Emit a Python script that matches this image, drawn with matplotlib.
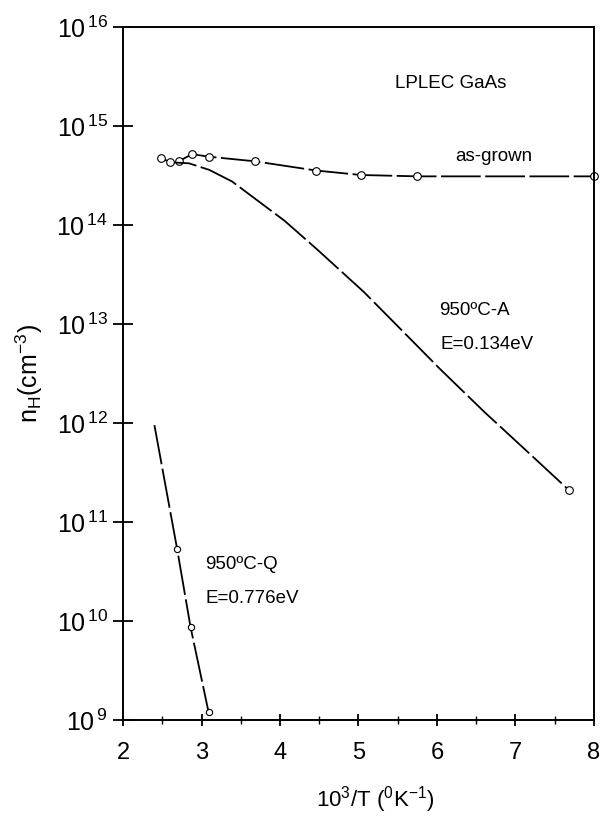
import math
import matplotlib
matplotlib.use("Agg")
import matplotlib.pyplot as plt
from matplotlib.ticker import FixedLocator, FuncFormatter

plt.rcParams['font.family'] = ['Liberation Sans', 'DejaVu Sans']
plt.rcParams['mathtext.fontset'] = 'custom'
plt.rcParams['mathtext.rm'] = 'Liberation Sans'
plt.rcParams['mathtext.it'] = 'Liberation Sans:italic'

# as-grown curve
asgrown_x = [2.71, 2.88, 3.09, 3.68, 4.46, 5.03, 5.75, 8.0]
asgrown_y = [4.4e14, 5.2e14, 4.9e14, 4.4e14, 3.55e14, 3.2e14, 3.1e14, 3.1e14]

# 950C-A curve
anneal_x = [2.45, 2.6, 2.84, 3.1, 3.39, 3.7, 4.06, 4.48, 5.07, 5.5, 6.04, 6.6, 7.10, 7.68]
anneal_y = [4.9e14, 4.3e14, 4.2e14, 3.6e14, 2.75e14, 1.8e14, 1.1e14, 5.6e13, 2.1e13,
            9.5e12, 3.5e12, 1.3e12, 5.6e11, 2.1e11]
anneal_mx = [2.48, 2.6, 7.68]
anneal_my = [4.8e14, 4.3e14, 2.1e11]

# 950C-Q curve
quench_x = [2.40, 2.69, 2.86, 3.09]
quench_y = [9.5e11, 5.3e10, 8.7e9, 1.2e9]

x_ticks = [2, 3, 4, 5, 6, 7, 8]
y_exps = [9, 10, 11, 12, 13, 14, 15, 16]

fig = plt.figure(figsize=(6.03, 8.19), dpi=100)
ax = fig.add_axes([0.204, 0.121, 0.781, 0.846])

dash = (0, (22, 2.5))
ax.plot(asgrown_x, asgrown_y, color='black', lw=1.3, ls=dash,
        marker='o', ms=5.5, mfc='white', mec='black', mew=0.8, clip_on=False)
ax.plot(anneal_x, anneal_y, color='black', lw=1.3, ls=dash)
ax.plot(anneal_mx, anneal_my, ls='none', marker='o', ms=5.5,
        mfc='white', mec='black', mew=0.8)
ax.plot(quench_x, quench_y, color='black', lw=1.3, ls=dash,
        marker='o', ms=4.5, mfc='white', mec='black', mew=0.8, markevery=[1, 2, 3])

ax.set_yscale('log')
ax.set_xlim(2, 8)
ax.set_ylim(1e9, 1e16)

ax.xaxis.set_major_locator(FixedLocator(x_ticks))
ax.xaxis.set_minor_locator(FixedLocator([2.5, 3.5, 4.5, 5.5, 6.5, 7.5]))
ax.yaxis.set_major_locator(FixedLocator([10.0 ** e for e in y_exps]))
ax.yaxis.set_minor_locator(FixedLocator([]))
ax.yaxis.set_major_formatter(FuncFormatter(
    lambda v, p: r'$\mathregular{10^{\,%d}}$' % round(math.log10(v))))

ax.tick_params(axis='y', which='major', direction='inout', length=14, width=1.3,
               labelsize=18, pad=4)
ax.tick_params(axis='x', which='major', direction='inout', length=8, width=1.3,
               labelsize=17, pad=12)
ax.tick_params(axis='x', which='minor', direction='inout', length=6, width=1.0)

for s in ax.spines.values():
    s.set_linewidth(1.4)

ax.set_xlabel(r'10$^3$/T ($^0$K$^{-1}$)', fontsize=16)
ax.xaxis.set_label_coords(0.535, -0.092)
ax.set_ylabel(r'n$_\mathregular{H}$(cm$^{-3}$)', fontsize=18)
ax.yaxis.set_label_coords(-0.165, 0.5)

fs = 13.5
ax.text(5.47, 10 ** 15.43, 'LPLEC GaAs', fontsize=fs, va='center')
ax.text(6.23, 10 ** 14.69, 'as-grown', fontsize=fs, va='center')
ax.text(6.03, 10 ** 13.14, '950ºC-A', fontsize=fs, va='center')
ax.text(6.04, 10 ** 12.79, 'E=0.134eV', fontsize=fs, va='center')
ax.text(3.05, 10 ** 10.57, '950ºC-Q', fontsize=fs, va='center')
ax.text(3.05, 10 ** 10.23, 'E=0.776eV', fontsize=fs, va='center')

fig.savefig('out.png', dpi=100)
